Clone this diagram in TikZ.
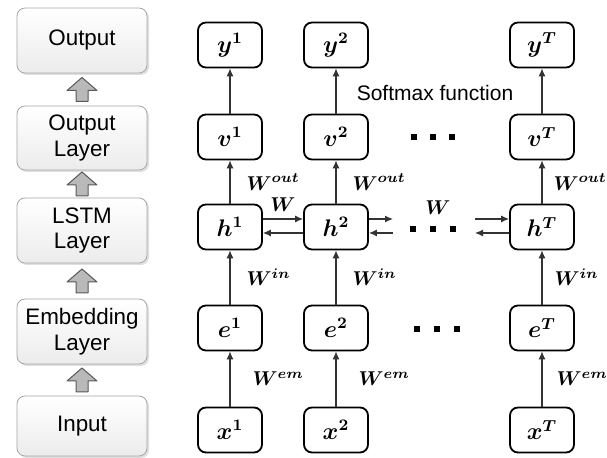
\documentclass[tikz,border=0pt]{standalone}
\usepackage{fontspec}
\usepackage{bm}
\newfontfamily\arial{Liberation Sans}
\usetikzlibrary{arrows.meta,shadows,calc}
\tikzset{every node/.style={inner sep=0pt}}
\tikzset{b/.style={rectangle,draw,line width=0.9pt,rounded corners=4pt,minimum width=32pt,minimum height=22.5pt,font=\fontsize{12}{14}\selectfont}}
\tikzset{l/.style={rectangle,draw=gray!70,rounded corners=4pt,top color=white,bottom color=gray!15,
  drop shadow={opacity=0.25,shadow xshift=1pt,shadow yshift=-1pt},minimum width=65pt,
  align=center,font=\arial\fontsize{11.2}{12.8}\selectfont}}
\tikzset{u/.style={draw=gray!70!black,fill=gray!55,line width=0.5pt,line join=round}}
\tikzset{a/.style={-{Latex[length=4pt,width=3.5pt]},draw=black!80,line width=0.6pt}}
\tikzset{w/.style={font=\fontsize{10}{11}\selectfont}}

\begin{document}
\begin{tikzpicture}[x=0.5pt,y=-0.5pt]
      \useasboundingbox (0,0) rectangle (607,458);
      % left column
      \node[l,minimum height=32.5pt] (out) at (82,40.5) {Output};
      \node[l,minimum height=32pt] (outl) at (82,138) {Output\\Layer};
      \node[l,minimum height=32.5pt] (lstm) at (82,230.5) {LSTM\\Layer};
      \node[l,minimum height=32.5pt] (emb) at (82,331.5) {Embedding\\Layer};
      \node[l,minimum height=30pt] (in) at (82,426) {Input};
      \coordinate (u1) at ($(outl.north)!0.5!(out.south)$);
      \coordinate (u2) at ($(lstm.north)!0.5!(outl.south)$);
      \coordinate (u3) at ($(emb.north)!0.5!(lstm.south)$);
      \coordinate (u4) at ($(in.north)!0.5!(emb.south)$);
      \foreach \c in {u1,u2,u3,u4}
        \draw[u] ($(\c)+(-6,12)$) -- ++(0,-11) -- ++(-9,0) -- ++(15,-13) -- ++(15,13)
          -- ++(-9,0) -- ++(0,11) -- cycle;
      % network
      \node[b] (y1) at (230,45) {$\bm{y^1}$};
      \node[b] (y2) at (336,45) {$\bm{y^2}$};
      \node[b] (yT) at (542,45) {$\bm{y^T}$};
      \node[b] (v1) at (230,137) {$\bm{v^1}$};
      \node[b] (v2) at (336,137) {$\bm{v^2}$};
      \node[b] (vT) at (542,137) {$\bm{v^T}$};
      \node[b] (h1) at (230,227) {$\bm{h^1}$};
      \node[b] (h2) at (336,227) {$\bm{h^2}$};
      \node[b] (hT) at (542,227) {$\bm{h^T}$};
      \node[b] (e1) at (230,328) {$\bm{e^1}$};
      \node[b] (e2) at (336,328) {$\bm{e^2}$};
      \node[b] (eT) at (542,328) {$\bm{e^T}$};
      \node[b] (x1) at (230,430) {$\bm{x^1}$};
      \node[b] (x2) at (336,430) {$\bm{x^2}$};
      \node[b] (xT) at (542,430) {$\bm{x^T}$};
      \node[font=\arial\fontsize{10.5}{12}\selectfont] (sm) at (435,93) {Softmax function};
      \node[w] (w) at (438,208) {$\bm{W}$};
      \coordinate (r1) at (393,219);
      \coordinate (r2) at (393,233);
      \coordinate (l1) at (475,219);
      \coordinate (l2) at (475,233);
        \draw[a] (x1) -- node[w,right=11pt] {$\bm{W^{em}}$} (e1);
        \draw[a] (x2) -- node[w,right=11pt] {$\bm{W^{em}}$} (e2);
        \draw[a] (xT) -- node[w,right=7pt] {$\bm{W^{em}}$} (eT);
        \draw[a] (e1) -- node[w,right=8pt] {$\bm{W^{in}}$} (h1);
        \draw[a] (e2) -- node[w,right=8pt] {$\bm{W^{in}}$} (h2);
        \draw[a] (eT) -- node[w,right=6pt] {$\bm{W^{in}}$} (hT);
        \draw[a] (h1) -- node[w,right=8pt] {$\bm{W^{out}}$} (v1);
        \draw[a] (h2) -- node[w,right=8pt] {$\bm{W^{out}}$} (v2);
        \draw[a] (hT) -- node[w,right=5.5pt] {$\bm{W^{out}}$} (vT);
        \draw[a] (v1) -- (y1);
        \draw[a] (v2) -- (y2);
        \draw[a] (vT) -- (yT);
        \draw[a] ([yshift=4pt]h1.east) -- node[w,above=3.5pt] {$\bm{W}$} ([yshift=4pt]h2.west);
        \draw[a] ([yshift=-3pt]h2.west) -- ([yshift=-3pt]h1.east);
        \draw[a] ([yshift=4pt]h2.east) -- (r1);
        \draw[a] (r2) -- ([yshift=-3pt]h2.east);
        \draw[a] (l1) -- ([yshift=4pt]hT.west);
        \draw[a] ([yshift=-3pt]hT.west) -- (l2);
      % dots
      \foreach \x in {414,433,452} \fill (\x-3,134) rectangle ++(6,6);
      \foreach \x in {413,433,453} \fill (\x-3,226) rectangle ++(6,6);
      \foreach \x in {417,437,457} \fill (\x-3,326) rectangle ++(6,6);
    \end{tikzpicture}
\end{document}
